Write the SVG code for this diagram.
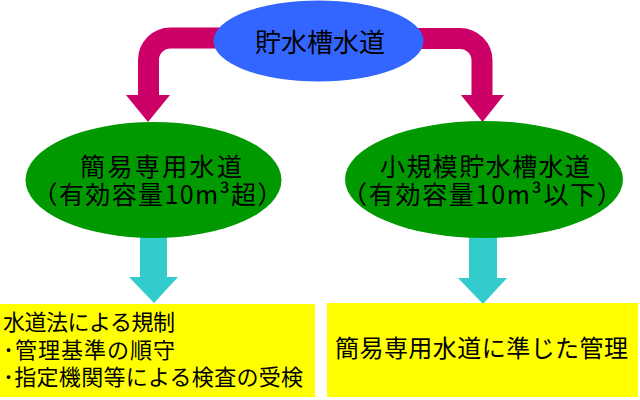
<svg xmlns="http://www.w3.org/2000/svg" width="640" height="400" viewBox="0 0 640 400">
<style>
text{font-family:"Noto Sans CJK JP","Noto Sans CJK SC",sans-serif;fill:#000}
.c{text-anchor:middle}
.mag{fill:none;stroke:#CC0066;stroke-width:21}
.maghead{fill:#CC0066}
.cyan{fill:#33CCCC}
.green{fill:#009900}
.yellow{fill:#FFFF00}
</style>
<rect width="640" height="400" fill="#fff"/>
<g id="connectors">
<path class="mag" d="M240 38H170.5A22 22 0 0 0 148.5 60V96"/>
<polygon class="maghead" points="126,95 170,95 148,122"/>
<path class="mag" d="M400 38.5H460A22 22 0 0 1 482 60.5V96"/>
<polygon class="maghead" points="461,95 504,95 482.5,122"/>
<rect class="cyan" x="140" y="225" width="27" height="53"/>
<polygon class="cyan" points="129,277 178,277 154,303"/>
<rect class="cyan" x="469" y="225" width="28" height="54"/>
<polygon class="cyan" points="458,278 507,278 483,304"/>
</g>
<g id="top">
<ellipse cx="318.5" cy="41" rx="105" ry="40.5" fill="#3366FF"/>
<text class="c" x="320" y="52" font-size="26" textLength="130">貯水槽水道</text>
</g>
<g id="left">
<ellipse class="green" cx="153.5" cy="180" rx="128" ry="58"/>
<text class="c" font-size="25"><tspan x="161" y="176" textLength="162">簡易専用水道</tspan><tspan x="157.5" y="204" textLength="250">（有効容量10m³超）</tspan></text>
</g>
<g id="right">
<ellipse class="green" cx="484" cy="179.5" rx="139" ry="58.5"/>
<text class="c" font-size="25"><tspan x="485" y="176" textLength="210">小規模貯水槽水道</tspan><tspan x="482" y="204" textLength="280">（有効容量10m³以下）</tspan></text>
</g>
<g id="leftbox">
<rect class="yellow" x="0" y="304" width="315" height="93"/>
<text font-size="22"><tspan x="3" y="330" textLength="172">水道法による規制</tspan><tspan x="3" y="358" textLength="172">･管理基準の順守</tspan><tspan x="3" y="385" textLength="300">･指定機関等による検査の受検</tspan></text>
</g>
<g id="rightbox">
<rect class="yellow" x="327" y="303" width="311" height="94"/>
<text class="c" x="481.5" y="357" font-size="24" textLength="293">簡易専用水道に準じた管理</text>
</g>
</svg>
